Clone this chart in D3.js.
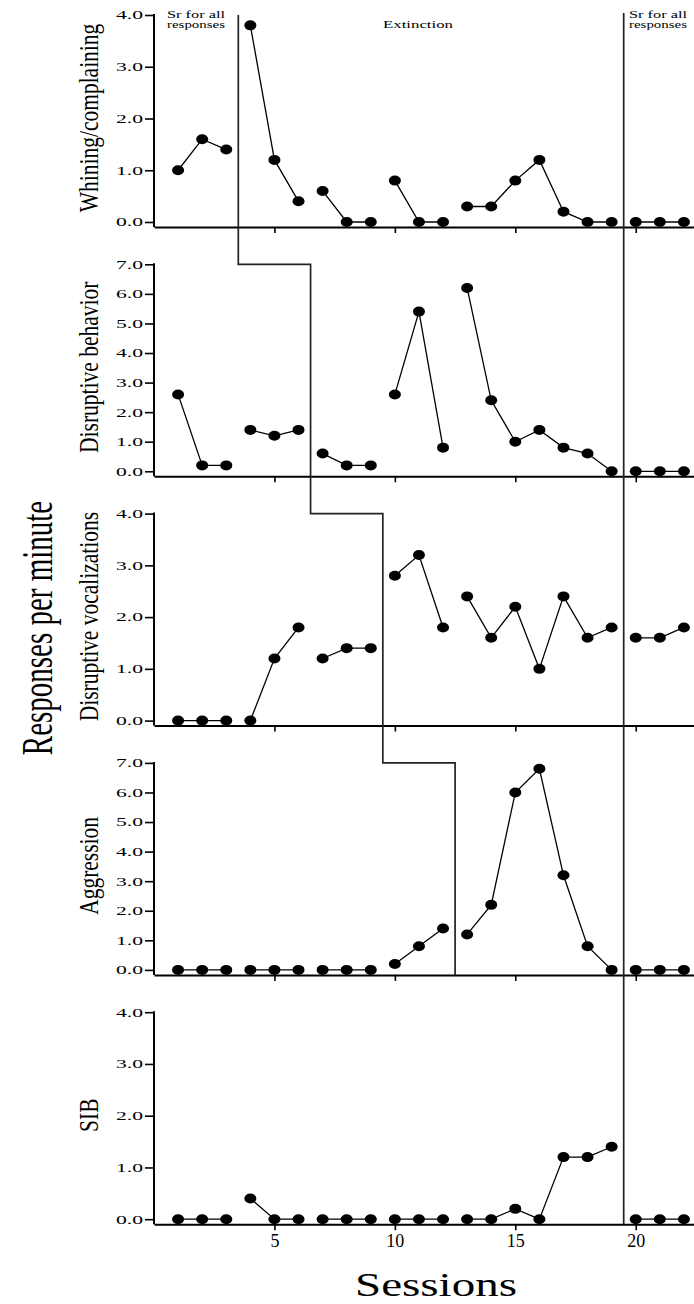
<!DOCTYPE html>
<meta charset="utf-8">
<style>
body{margin:0;background:#fff;}
text{font-family:"Liberation Serif","Times New Roman",serif;fill:#000;}
.tick line{stroke:#000;stroke-width:1.6px;}
.domain{stroke:#000;stroke-width:2px;}
.yline{stroke:#000;stroke-width:2px;}
.phase{stroke:#222;stroke-width:1.7px;fill:none;}
.series{stroke:#000;stroke-width:1.3px;fill:none;}
</style>
<body>
<script src="https://cdn.jsdelivr.net/npm/d3@7"></script>
<script>

var sessions = [1,2,3,4,5,6,7,8,9,10,11,12,13,14,15,16,17,18,19,20,21,22];

var panelNames = ["Whining/complaining","Disruptive behavior","Disruptive vocalizations","Aggression","SIB"];
var panelMax = [4,7,4,7,4];

var whining    = [1.0,1.6,1.4, 3.8,1.2,0.4, 0.6,0,0, 0.8,0,0, 0.3,0.3,0.8,1.2,0.2,0,0, 0,0,0];
var disruptive = [2.6,0.2,0.2, 1.4,1.2,1.4, 0.6,0.2,0.2, 2.6,5.4,0.8, 6.2,2.4,1.0,1.4,0.8,0.6,0, 0,0,0];
var vocal      = [0,0,0, 0,1.2,1.8, 1.2,1.4,1.4, 2.8,3.2,1.8, 2.4,1.6,2.2,1.0,2.4,1.6,1.8, 1.6,1.6,1.8];
var aggression = [0,0,0, 0,0,0, 0,0,0, 0.2,0.8,1.4, 1.2,2.2,6.0,6.8,3.2,0.8,0, 0,0,0];
var sib        = [0,0,0, 0.4,0,0, 0,0,0, 0,0,0, 0,0,0.2,0,1.2,1.2,1.4, 0,0,0];
var series = [whining, disruptive, vocal, aggression, sib];

// staircase phase changes (one per panel) and the final return to Sr
var stairBreaks = [3.5,6.5,9.5,12.5];
var finalBreak = 19.5;
var allBreaks = [3.5,6.5,9.5,12.5,19.5];

var xTicks = [5,10,15,20];

var W = 694, H = 1304;
var svg = d3.select("body").append("svg").attr("width", W).attr("height", H);

var x = d3.scaleLinear().domain([0,23]).range([154,708]);

var panelH = 207, panelStep = 249.3, firstTop = 15;
var tops = [], axisYs = [];
var ys = panelNames.map(function(name,i){
	var top = firstTop + i*panelStep;
	tops.push(top);
	axisYs.push(top + panelH + 5);
	return d3.scaleLinear().domain([0,panelMax[i]]).range([top+panelH, top]);
});

var line = d3.line().x(d=>x(d.s)).y(d=>d.yv);

panelNames.forEach(function(name,i){
	var y = ys[i];
	var g = svg.append("g");
	var axisY = axisYs[i];

	// y axis
	g.append("g").attr("transform","translate("+x(0)+",0)")
		.call(d3.axisLeft(y).tickValues(d3.range(0,panelMax[i]+1)).tickFormat(d3.format(".1f")).tickSize(9).tickPadding(2))
		.call(a=>a.select(".domain").remove())
		.call(a=>a.selectAll(".tick text").style("font-size","12px")
			.attr("textLength",27).attr("lengthAdjust","spacingAndGlyphs"));
	g.append("line").attr("class","yline")
		.attr("x1",x(0)).attr("x2",x(0)).attr("y1",y(panelMax[i])-1).attr("y2",axisY);

	// x axis
	var xa = d3.axisBottom(x).tickValues(xTicks).tickSize(6).tickSizeOuter(0).tickPadding(4);
	if(i<4) xa.tickFormat("");
	g.append("g").attr("transform","translate(0,"+axisY+")")
		.call(xa)
		.call(a=>a.selectAll(".tick text").style("font-size","18px"));

	// panel label
	g.append("text")
		.attr("transform","translate(98,"+(tops[i]+103)+") rotate(-90) scale(1,1.25)")
		.attr("text-anchor","middle").style("font-size","21.5px").text(name);

	// data segments split at phase changes
	var pts = sessions.map((s,k)=>({s:s, v:series[i][k], yv:y(series[i][k]), seg:d3.bisectLeft(allBreaks,s)}));
	var segs = d3.groups(pts, d=>d.seg).map(d=>d[1]);
	g.selectAll(".series").data(segs).join("path").attr("class","series").attr("d",line);
	g.selectAll("ellipse").data(pts).join("ellipse")
		.attr("cx",d=>x(d.s)).attr("cy",d=>d.yv).attr("rx",6).attr("ry",5).attr("fill","#000");
});

// staircase phase line
var stair = [];
stairBreaks.forEach(function(b,i){
	stair.push([x(b), tops[i]]);
	if(i<stairBreaks.length-1){
		stair.push([x(b), tops[i+1]]);
		stair.push([x(stairBreaks[i+1]), tops[i+1]]);
	} else {
		stair.push([x(b), axisYs[i]]);
	}
});
svg.append("path").attr("class","phase").attr("d", d3.line()(stair));
svg.append("line").attr("class","phase")
	.attr("x1",x(finalBreak)).attr("x2",x(finalBreak))
	.attr("y1",tops[0]-2).attr("y2",axisYs[4]);

// phase annotations
function note(txt, xs, yb, len){
	svg.append("text").attr("x",xs).attr("y",yb).style("font-size","10.5px")
		.attr("textLength",len).attr("lengthAdjust","spacingAndGlyphs").text(txt);
}
note("Sr for all", 167, 18, 58);
note("responses", 167, 27.5, 58);
note("Extinction", 383, 28, 70);
note("Sr for all", 629, 18, 58);
note("responses", 629, 27.5, 58);

// overall titles
svg.append("text")
	.attr("transform","translate(52,628) rotate(-90) scale(1,1.5)")
	.attr("text-anchor","middle").style("font-size","29px").text("Responses per minute");
svg.append("text").attr("x",355).attr("y",1296).style("font-size","33px")
	.attr("textLength",162).attr("lengthAdjust","spacingAndGlyphs").text("Sessions");

</script>
</body>
